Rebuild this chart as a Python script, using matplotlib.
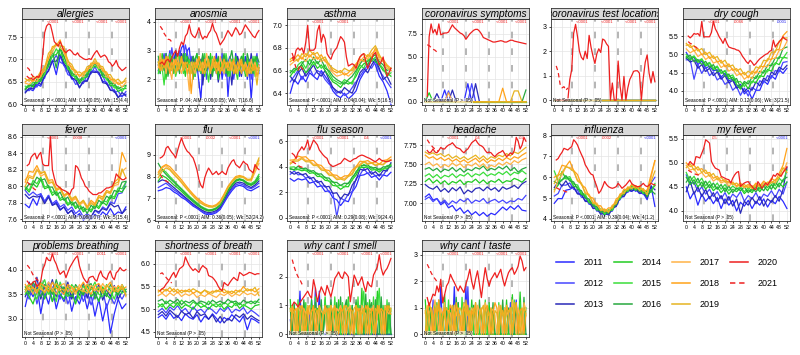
import matplotlib
matplotlib.use('Agg')
import matplotlib.pyplot as plt
from matplotlib.lines import Line2D
from matplotlib.transforms import blended_transform_factory

plt.rcParams['font.family'] = ['Liberation Sans', 'DejaVu Sans']

years = ['2011', '2012', '2013', '2014', '2015', '2016', '2017', '2018', '2019', '2020', '2021']
year_colors = ['#2b2bff', '#4646ff', '#2a2ab8', '#22cc22', '#3ade3a', '#27a83f',
               '#ffb347', '#ffa31a', '#e6b422', '#ee2020', '#ee2020']

weeks_bg2 = list(range(0, 53, 2))
weeks_bg1 = list(range(0, 53))
weeks_2020 = list(range(1, 53))
weeks_2021 = list(range(1, 8))

# ---------------- allergies ----------------
allergies_bg = [
    [6.27,6.34,6.30,6.44,6.40,6.62,6.76,6.98,6.66,7.08,6.86,6.76,6.56,6.54,6.38,6.49,6.54,6.74,6.74,6.69,6.51,6.49,6.31,6.32,6.16,6.19,6.22],
    [6.32,6.30,6.44,6.38,6.54,6.58,6.89,6.96,7.09,6.94,6.89,6.66,6.62,6.44,6.49,6.46,6.66,6.68,6.84,6.66,6.64,6.44,6.42,6.26,6.29,6.16,6.28],
    [6.25,6.36,6.34,6.49,6.44,6.64,6.74,6.96,6.96,7.12,6.91,6.79,6.58,6.56,6.36,6.52,6.51,6.72,6.71,6.72,6.48,6.46,6.31,6.29,6.14,6.26,6.18],
    [6.35,6.44,6.38,6.52,6.51,6.72,6.84,7.09,7.11,7.24,6.96,6.84,6.64,6.62,6.46,6.59,6.61,6.82,6.84,6.82,6.61,6.59,6.41,6.42,6.28,6.34,6.35],
    [6.40,6.38,6.49,6.46,6.59,6.66,6.96,7.06,7.24,7.11,7.09,6.78,6.74,6.56,6.56,6.54,6.72,6.76,6.94,6.76,6.72,6.54,6.52,6.36,6.39,6.28,6.40],
    [6.32,6.42,6.41,6.56,6.54,6.76,6.91,7.19,6.81,7.29,7.06,6.89,6.68,6.66,6.51,6.64,6.66,6.86,6.88,6.86,6.66,6.64,6.46,6.46,6.34,6.39,6.42],
    [6.47,6.44,6.54,6.51,6.66,6.74,7.04,7.16,7.34,7.26,7.19,6.88,6.84,6.66,6.66,6.61,6.79,6.81,6.96,6.81,6.79,6.61,6.59,6.46,6.49,6.38,6.48],
    [6.50,6.56,6.51,6.62,6.61,6.84,7.01,7.29,7.31,7.44,7.16,6.99,6.78,6.76,6.61,6.72,6.74,6.92,6.91,6.92,6.74,6.72,6.54,6.56,6.44,6.49,6.52],
    [6.57,6.51,6.62,6.58,6.74,6.81,7.14,7.24,7.36,7.31,7.29,6.96,6.89,6.71,6.72,6.66,6.84,6.86,7.02,6.86,6.84,6.66,6.66,6.51,6.56,6.46,6.58],
]
allergies_2020 = [6.62,6.58,6.58,6.55,6.58,6.62,6.60,6.70,7.10,7.60,7.75,7.80,7.78,7.60,7.40,7.35,7.30,7.40,7.30,7.20,
                  7.15,7.20,7.22,7.18,7.12,7.10,7.15,7.08,7.05,7.02,7.00,7.00,7.02,7.00,7.08,7.15,7.20,7.12,7.05,7.08,
                  7.10,7.05,6.95,6.92,6.85,6.90,6.98,6.85,6.80,6.75,6.78,6.82]
allergies_2021 = [6.82,6.78,6.68,6.62,6.60,6.62,6.60]

# ---------------- anosmia ----------------
anosmia_bg = [
    [2.5,2.2,2.8,2.4,2.9,2.6,3.0,2.3,2.7,2.9,2.4,2.8,3.1,3.2,2.6,3.0,3.1,2.4,2.2,2.7,2.5,1.9,1.3,2.4,2.8,2.3,2.6,2.1,2.7,2.4,2.9,2.2,2.6,2.0,2.5,2.8,1.4,2.3,2.7,2.2,2.9,2.5,2.1,2.6,2.3,2.8,2.0,2.4,1.3,2.2,2.7,2.3,2.5],
    [2.7,2.4,2.6,2.9,2.3,2.7,2.5,3.1,2.6,2.4,2.8,3.0,2.5,2.7,3.2,2.9,2.6,2.8,2.3,2.6,2.9,2.4,2.2,2.7,2.5,2.0,2.6,2.8,2.3,2.5,2.2,2.7,2.4,2.9,2.3,2.1,2.6,2.8,2.4,2.0,2.5,2.7,2.3,2.6,2.8,2.2,2.5,2.7,2.0,2.4,2.6,2.9,2.2],
    [2.3,2.6,2.4,2.7,2.5,2.2,2.8,2.6,2.4,3.0,2.7,2.5,2.9,2.6,2.4,2.7,2.3,2.6,2.8,2.1,2.6,2.4,2.7,1.8,2.5,2.3,2.6,2.0,2.4,2.7,2.5,1.9,2.3,2.6,2.4,2.7,2.2,2.5,1.8,2.6,2.4,2.8,2.5,2.1,2.7,2.4,2.6,2.3,2.9,2.5,2.2,2.6,2.4],
    [2.6,2.2,2.9,2.5,2.0,2.7,2.4,2.8,2.2,2.6,2.9,2.3,2.7,2.5,2.1,2.8,2.4,2.6,2.0,2.7,2.9,2.3,2.5,2.8,2.1,2.6,2.4,2.9,2.2,2.5,2.7,2.0,2.6,2.3,2.8,2.5,2.1,2.7,2.4,2.2,2.8,2.6,2.3,2.5,2.9,2.1,2.7,2.4,2.6,2.2,2.8,2.5,2.3],
    [2.2,2.7,2.4,1.8,2.6,2.3,2.9,2.5,2.7,2.1,2.4,2.8,2.6,2.2,2.9,2.4,2.7,2.3,2.6,2.1,2.5,2.8,2.2,2.6,2.9,2.4,1.9,2.6,2.8,2.3,2.5,2.7,2.2,2.6,2.4,2.9,2.5,2.1,2.7,2.6,2.3,2.0,2.6,2.8,2.4,2.2,2.7,2.5,2.3,2.8,2.1,2.6,2.4],
    [2.8,2.4,2.6,2.3,2.9,2.1,2.5,2.7,2.3,2.8,2.5,2.2,2.6,2.9,2.4,2.7,2.2,2.5,2.8,2.6,2.3,2.7,2.5,2.9,2.3,2.6,2.8,2.4,2.1,2.7,2.5,2.8,2.3,2.6,2.9,2.2,2.4,2.7,3.0,2.5,2.2,2.6,2.4,2.8,2.5,2.3,2.9,2.6,2.2,2.7,2.5,2.8,2.6],
    [2.4,2.9,2.5,2.7,2.2,2.6,2.3,2.0,2.7,2.5,2.8,2.4,2.2,2.6,2.5,2.3,1.6,2.6,2.4,2.2,2.7,2.5,2.3,2.6,2.4,2.9,2.5,2.2,2.7,2.4,2.6,2.3,2.8,2.5,2.2,2.6,2.4,2.7,2.3,2.6,2.4,2.2,2.7,2.5,2.3,2.6,2.4,2.2,2.7,2.4,2.6,2.3,2.5],
    [2.6,2.3,2.7,2.4,2.8,2.5,2.2,2.6,2.4,2.7,2.3,2.5,2.8,2.4,2.6,2.2,2.5,1.5,2.3,2.6,2.4,2.8,2.5,2.2,2.7,2.4,2.6,2.3,2.5,2.8,2.4,2.6,2.2,2.5,2.7,2.4,2.6,2.3,2.5,2.7,2.2,2.6,2.4,2.7,2.3,2.5,2.2,2.6,2.4,2.3,2.5,2.1,2.4],
    [2.5,2.7,2.3,2.6,2.4,2.8,2.6,2.3,2.5,2.2,2.6,2.4,2.7,2.3,2.5,2.6,2.4,2.2,2.6,2.4,2.5,2.3,2.6,2.4,2.2,2.5,2.7,2.3,2.4,2.6,2.2,2.5,2.4,2.3,2.6,2.5,2.3,2.4,2.6,2.2,2.5,2.3,2.4,2.2,2.5,2.3,2.1,2.4,2.2,2.5,2.3,1.8,2.4],
]
anosmia_2020 = [2.55,2.60,2.50,2.65,2.70,2.60,2.75,2.90,3.00,2.80,3.10,3.30,3.20,3.50,3.60,3.90,3.60,3.50,3.45,3.60,
                3.80,3.55,3.40,3.50,3.45,3.60,3.70,3.95,3.70,3.60,3.40,3.20,3.30,3.40,3.55,3.70,3.60,3.50,3.65,3.80,
                3.70,3.55,3.60,3.75,3.90,3.80,3.70,3.60,3.50,3.45,3.60,3.70]
anosmia_2021 = [3.85,3.75,3.60,3.50,3.40,3.38,3.30]

# ---------------- asthma ----------------
asthma_bg = [
    [6.40,6.52,6.48,6.55,6.50,6.58,6.55,6.52,6.60,6.55,6.50,6.42,6.38,6.36,6.40,6.35,6.38,6.42,6.52,6.58,6.62,6.70,6.65,6.55,6.50,6.42,6.30],
    [6.50,6.55,6.60,6.52,6.58,6.62,6.55,6.60,6.58,6.52,6.48,6.45,6.40,6.42,6.38,6.40,6.45,6.50,6.55,6.60,6.65,6.62,6.68,6.60,6.55,6.50,6.45],
    [6.55,6.50,6.58,6.62,6.55,6.60,6.65,6.58,6.55,6.60,6.52,6.45,6.42,6.40,6.45,6.42,6.40,6.48,6.58,6.62,6.58,6.65,6.70,6.62,6.52,6.55,6.48],
    [6.55,6.60,6.62,6.65,6.58,6.62,6.68,6.62,6.65,6.60,6.55,6.50,6.48,6.45,6.50,6.48,6.50,6.55,6.62,6.66,6.68,6.72,6.68,6.65,6.60,6.58,6.55],
    [6.60,6.58,6.65,6.68,6.62,6.70,6.65,6.68,6.62,6.65,6.58,6.52,6.50,6.48,6.52,6.50,6.48,6.58,6.65,6.62,6.70,6.68,6.72,6.66,6.62,6.55,6.58],
    [6.58,6.62,6.60,6.66,6.70,6.65,6.72,6.66,6.70,6.62,6.60,6.55,6.52,6.50,6.48,6.52,6.55,6.60,6.66,6.70,6.65,6.72,6.74,6.68,6.65,6.60,6.62],
    [6.65,6.68,6.70,6.72,6.68,6.74,6.70,6.72,6.68,6.70,6.62,6.58,6.55,6.56,6.58,6.55,6.58,6.62,6.68,6.72,6.70,6.75,6.78,6.70,6.68,6.62,6.60],
    [6.68,6.70,6.74,6.70,6.75,6.72,6.76,6.70,6.74,6.68,6.66,6.60,6.58,6.60,6.56,6.58,6.62,6.66,6.70,6.68,6.74,6.72,6.80,6.72,6.70,6.65,6.62],
    [6.70,6.72,6.68,6.75,6.72,6.78,6.74,6.76,6.70,6.72,6.65,6.62,6.60,6.58,6.62,6.60,6.60,6.65,6.72,6.75,6.72,6.78,6.82,6.74,6.68,6.64,6.60],
]
asthma_2020 = [6.75,6.70,6.78,6.80,6.78,6.80,6.75,6.85,7.00,6.78,6.78,6.78,6.80,6.95,7.00,6.85,6.92,6.88,6.75,6.72,
               6.70,6.75,6.78,6.80,6.85,6.90,6.88,6.85,6.72,6.64,6.65,6.66,6.65,6.62,6.68,6.72,6.74,6.75,6.68,6.62,
               6.66,6.70,6.74,6.76,6.70,6.65,6.68,6.72,6.62,6.55,6.58,6.62]
asthma_2021 = [6.72,6.68,6.62,6.60,6.65,6.62,6.60]

# ---------------- coronavirus symptoms ----------------
coronavirus_symptoms_bg = [
    [0,0,0,0,0,1.3,0,0,0,0,0,2.0,0,0,0,0,0,0,0,0,0,0,0,0,0,0,0],
    [0,0,0,0,0,0,1.2,0,0,0,0,0,2.0,0,0,0,0,0,0,0,0,0,0,0,0,0,0],
    [0,0,0,0.9,0,0,0,1.3,0,0,0,0,0,2.0,0,0,0,0,0,0,0,0,0,0,0,0,0],
    [0,1.0,0,0,0,0,0,0,0,0,0,0,0,0,0,0,0,0,0,0,0,0,0,0,0,0,0],
    [0,0,0,0,0,0,0,0,0,0,0,0,0,0,0,0,0,0,0,0,0,0,0,0,0,0,0],
    [0,0,0,0,0,0,0,0,0,0,0,0,0,0,0,0,0,0,0,0,0,0,0,0,0,0,1.3],
    [0,0,0,0,0,0,1.0,0,0,0,0,0,0,0,0,0,0,0,0,0,0,0,0,0,0,0,0],
    [0,0,0,0,0,0,0,0,0,0,0,0,0,0,0,0,0,0,0,0,1.5,0,0,0,0,0,0],
    [0,0,0,0,0,0,0,0,0,0,0,0,0,0,0,0,0,0,0,0,0,0,0,1.2,1.2,0,0],
]
coronavirus_symptoms_2020 = [0.6,7.2,8.6,7.6,8.0,7.4,8.6,7.4,7.5,7.6,7.6,7.7,8.1,8.5,8.2,8.0,7.8,7.6,7.5,7.3,
                             6.9,7.2,7.5,7.7,7.9,8.0,8.0,7.8,7.5,7.1,7.0,6.9,6.8,6.7,6.6,6.6,6.65,6.7,6.75,6.7,
                             6.6,6.6,6.7,6.8,6.8,6.7,6.65,6.6,6.55,6.5,6.45,6.4]
coronavirus_symptoms_2021 = [6.3,6.2,6.0,5.8,5.7,5.5]

# ---------------- coronavirus test locations ----------------
coronavirus_test_locations_bg = [
    [0,0,0,0,0,0,0,0,0,0,0,0,0,0,0,0,0,0,0,0,0,0,0,0,0,0,0],
    [0,0,0,0,0,0,0,0,0,0,0,0,0,0,0,0,0,0,0,0,0,0,0,0,0,0,0],
    [0,0,0,0,0,0,0,0,0,0,0,0,0,0,0,0,0,0,0,0,0,0,0,0,0,0,0],
    [0,0,0,0,0,0,0,0,0,0,0,0,0,0,0,0,0,0,0,0,0,0,0,0,0,0,0],
    [0,0,0,0,0,0,0,0,0,0,0,0,0,0,0,0,0,0,0,0,0,0,0,0,0,0,0],
    [0,0,0,0,0,0,0,0,0,0,0,0,0,0,0,0,0,0,0,0,0,0,0,0,0,0,0],
    [0,0,0,0,0,0,0,0,0,0,0,0,0,0,0,0,0,0,0,0,0,0,0,0,0,0,0],
    [0,0,0,0,0,0,0,0,0,0,0,0,0,0,0,0,0,0,0,0,0,0,0,0,0,0,0],
    [0,0,0,0,0,0,0,0,0,0,0,0,0,0,0,0,0,0,0,0,0,0,0,0,0,0,0],
]
coronavirus_test_locations_2020 = [0,0,0,0,0,0,0,0.84,1.24,2.73,3.1,2.6,2.0,1.75,1.65,2.0,1.7,2.65,2.16,1.8,
                                   1.5,1.9,2.1,1.95,2.5,2.45,2.3,2.2,0,0.7,0,0,1.6,0.57,0,0.97,0,0.5,0.84,1.0,
                                   1.18,1.2,1.2,1.1,0,0.9,1.55,1.85,1.1,0.7,1.17,0.75]
coronavirus_test_locations_2021 = [1.4,1.15,0.65,0.5,0.55,0.4,0.5]

# ---------------- dry cough ----------------
dry_cough_bg = [
    [5.05,4.88,4.92,4.72,4.82,4.62,4.68,4.55,4.58,4.38,4.48,4.28,4.32,4.12,4.18,3.92,4.02,3.78,4.02,4.02,4.28,4.18,4.42,4.32,4.58,4.48,4.62],
    [4.85,4.86,4.32,4.72,4.48,4.66,4.42,4.52,4.30,4.38,4.18,4.26,4.02,4.12,3.88,4.08,3.86,4.10,4.02,4.28,4.22,4.42,4.35,4.56,4.52,4.78,4.80],
    [4.90,4.79,4.84,4.62,4.72,4.53,4.62,4.42,4.52,4.32,4.42,4.22,4.29,4.08,4.12,3.98,4.09,4.02,4.25,4.14,4.35,4.27,4.52,4.44,4.65,4.58,4.70],
    [4.95,4.84,4.94,4.78,4.86,4.68,4.76,4.58,4.66,4.48,4.54,4.33,4.38,4.18,4.05,4.22,4.06,4.27,4.22,4.42,4.39,4.59,4.54,4.77,4.72,4.92,4.90],
    [5.00,4.90,4.96,4.82,4.88,4.72,4.78,4.62,4.68,4.49,4.56,4.39,4.44,4.24,4.26,4.12,4.28,4.22,4.41,4.36,4.56,4.52,4.74,4.72,4.94,4.89,5.05],
    [4.90,4.98,4.80,4.86,4.72,4.81,4.64,4.72,4.52,4.58,4.40,4.46,4.29,4.34,4.10,4.26,4.19,4.38,4.34,4.54,4.49,4.71,4.69,4.91,4.89,5.16,5.20],
    [5.15,5.04,5.11,4.94,5.01,4.86,4.94,4.76,4.81,4.64,4.71,4.54,4.61,4.42,4.48,4.32,4.41,4.34,4.54,4.49,4.68,4.66,4.88,4.89,5.11,5.14,5.35],
    [5.25,5.26,5.09,5.16,4.99,5.06,4.89,4.96,4.79,4.84,4.66,4.74,4.56,4.61,4.44,4.51,4.36,4.54,4.49,4.68,4.66,4.88,4.86,5.11,5.14,5.51,5.62],
    [5.30,5.19,5.24,5.09,5.16,4.99,5.06,4.89,4.94,4.76,4.84,4.66,4.71,4.54,4.61,4.44,4.54,4.46,4.66,4.62,4.84,4.82,5.06,5.06,5.36,5.44,5.45],
]
dry_cough_2020 = [5.50,5.45,5.50,5.57,5.55,5.57,5.50,5.90,5.48,5.48,5.48,5.48,5.60,5.90,5.70,5.60,5.48,5.40,5.30,5.44,
                  5.30,5.20,5.18,5.16,5.15,5.12,5.11,5.05,4.95,4.88,4.80,4.75,4.84,4.78,4.70,4.75,4.82,4.88,4.92,4.96,
                  5.00,5.02,5.08,5.11,5.39,5.20,5.28,5.34,5.40,5.48,5.42,5.39]
dry_cough_2021 = [5.35,5.30,5.28,5.22,5.20,5.15,5.10]

# ---------------- fever ----------------
fever_bg = [
    [7.78,7.74,7.85,7.77,7.91,7.81,7.89,7.77,7.81,7.72,7.75,7.67,7.71,7.63,7.67,7.59,7.63,7.60,7.66,7.62,7.69,7.65,7.73,7.65,7.69,7.67,7.75],
    [7.95,7.89,7.93,7.89,7.91,7.82,7.89,7.79,7.83,7.75,7.78,7.71,7.75,7.67,7.71,7.63,7.67,7.62,7.71,7.67,7.75,7.72,7.81,7.79,7.91,7.92,8.05],
    [7.90,7.85,7.88,7.87,7.88,7.79,7.87,7.77,7.79,7.71,7.75,7.67,7.71,7.62,7.65,7.61,7.65,7.63,7.71,7.69,7.73,7.71,7.79,7.75,7.77,7.67,7.72],
    [7.98,7.93,8.03,7.99,8.08,7.97,7.99,7.89,7.93,7.83,7.85,7.77,7.81,7.73,7.77,7.69,7.73,7.69,7.77,7.73,7.81,7.77,7.87,7.85,7.95,7.93,8.00],
    [8.00,7.95,8.07,8.03,8.11,7.99,8.01,7.92,7.95,7.85,7.88,7.79,7.83,7.75,7.79,7.71,7.75,7.71,7.79,7.75,7.83,7.81,7.89,7.87,7.98,7.97,8.05],
    [7.96,8.03,8.02,8.11,8.07,8.09,7.99,7.99,7.89,7.93,7.83,7.87,7.77,7.81,7.72,7.75,7.67,7.77,7.73,7.83,7.79,7.88,7.85,7.95,7.93,8.05,8.06],
    [8.08,8.13,8.11,8.21,8.12,8.15,8.03,8.05,7.95,7.97,7.87,7.91,7.82,7.85,7.77,7.81,7.73,7.81,7.77,7.87,7.83,7.93,7.91,8.01,8.02,8.18,8.22],
    [8.05,8.18,8.17,8.25,8.15,8.18,8.07,8.08,7.97,7.99,7.89,7.91,7.83,7.87,7.79,7.83,7.75,7.83,7.79,7.89,7.87,7.95,7.93,8.05,8.09,8.41,8.30],
    [8.00,8.11,8.09,8.19,8.17,8.17,8.05,8.05,7.95,7.98,7.89,7.93,7.85,7.88,7.79,7.83,7.75,7.79,7.77,7.87,7.85,7.93,7.92,8.03,8.05,8.21,8.10],
]
fever_2020 = [8.25,8.27,8.35,8.38,8.40,8.33,8.38,8.41,8.27,8.25,8.25,8.25,8.60,8.20,8.10,8.02,8.00,7.98,7.96,7.95,
              7.94,7.92,7.90,7.96,7.98,8.25,8.23,8.18,8.10,8.06,8.00,7.98,7.94,7.92,7.90,7.90,7.90,7.92,7.92,7.94,
              7.96,7.98,7.98,7.99,8.00,8.05,8.15,8.12,8.10,8.08,8.08,8.10]
fever_2021 = [8.05,8.03,8.00,7.98,7.96,7.95,7.95]

# ---------------- flu ----------------
flu_bg = [
    [7.35,7.40,7.50,7.45,7.30,7.20,7.05,6.95,6.80,6.65,6.55,6.42,6.30,6.25,6.28,6.35,6.50,6.80,7.10,7.35,7.55,7.60,7.55,7.40,7.35,7.45,7.55],
    [7.50,7.60,7.70,7.55,7.40,7.28,7.15,7.00,6.85,6.70,6.58,6.45,6.35,6.30,6.32,6.40,6.55,6.85,7.18,7.42,7.62,7.68,7.62,7.50,7.45,7.55,7.70],
    [7.75,7.85,7.80,7.65,7.50,7.35,7.20,7.05,6.90,6.75,6.62,6.50,6.40,6.35,6.38,6.45,6.60,6.92,7.25,7.50,7.70,7.75,7.70,7.58,7.50,7.62,7.80],
    [7.80,8.05,7.95,7.80,7.62,7.48,7.32,7.15,7.00,6.85,6.70,6.58,6.48,6.42,6.45,6.52,6.68,7.00,7.32,7.58,7.78,7.85,7.80,7.65,7.60,7.70,7.90],
    [8.10,8.35,8.20,8.00,7.82,7.62,7.45,7.28,7.10,6.95,6.80,6.65,6.55,6.48,6.50,6.58,6.72,7.05,7.40,7.65,7.85,7.90,7.85,7.72,7.68,7.80,8.10],
    [8.60,8.30,8.10,7.92,7.75,7.58,7.40,7.22,7.05,6.90,6.76,6.62,6.52,6.45,6.48,6.55,6.70,7.02,7.36,7.62,7.82,7.88,7.82,7.70,7.62,7.75,8.00],
    [8.10,8.40,8.50,8.35,8.15,7.95,7.75,7.55,7.35,7.15,6.98,6.82,6.70,6.62,6.60,6.65,6.80,7.12,7.48,7.72,7.92,7.98,7.95,7.82,7.80,8.20,8.60],
    [8.20,8.45,8.55,8.45,8.25,8.05,7.85,7.62,7.40,7.20,7.02,6.88,6.75,6.68,6.65,6.72,6.88,7.20,7.55,7.80,8.00,8.05,8.00,7.88,7.85,8.35,8.75],
    [7.95,8.25,8.40,8.30,8.10,7.92,7.72,7.50,7.30,7.10,6.92,6.78,6.68,6.62,6.62,6.68,6.82,7.15,7.50,7.75,7.95,8.00,7.98,7.85,7.90,8.40,8.85],
]
flu_2020 = [8.85,8.90,9.00,9.30,9.38,9.23,9.10,9.00,8.85,9.20,9.50,9.76,9.50,9.30,9.15,9.08,8.95,8.85,8.60,8.30,
            7.86,7.60,7.48,7.94,8.20,8.39,8.25,8.09,8.15,8.24,8.09,8.15,8.24,8.15,8.09,8.39,8.55,8.70,8.77,8.55,
            8.48,8.40,8.55,8.70,8.60,8.55,8.32,8.25,8.17,8.55,8.40,8.32]
flu_2021 = [8.10,7.95,7.85,7.80,7.75,7.72,7.70]

# ---------------- flu season ----------------
flu_season_bg = [
    [3.05,2.85,3.05,2.95,3.05,2.70,2.80,2.40,2.50,2.05,2.10,1.55,1.40,0.95,1.35,1.25,2.00,2.45,3.30,3.35,3.50,3.15,3.30,2.95,3.35,3.25,3.55],
    [3.40,3.65,3.35,3.40,3.10,3.20,2.80,2.90,2.45,2.50,2.00,1.95,0.10,1.55,1.35,1.85,2.05,3.05,3.35,3.85,3.45,3.60,3.25,3.40,3.30,3.80,4.00],
    [3.60,3.40,3.55,3.35,3.45,3.05,3.15,2.75,2.85,2.40,2.45,1.90,1.95,1.45,1.85,1.75,2.55,2.95,3.80,3.70,3.85,3.40,3.60,3.25,3.70,3.65,4.30],
    [3.85,3.72,3.78,3.67,3.73,3.47,3.53,3.22,3.23,2.92,2.88,2.52,2.48,2.22,2.43,2.42,2.98,3.32,3.93,3.92,3.98,3.72,3.78,3.57,3.83,3.82,4.05],
    [3.95,3.98,3.77,3.88,3.67,3.73,3.47,3.48,3.17,3.18,2.84,2.83,2.47,2.53,2.42,2.73,2.92,3.63,3.87,4.18,3.92,3.98,3.72,3.83,3.77,4.08,4.10],
    [3.80,3.77,4.03,3.82,3.88,3.62,3.68,3.40,3.43,3.12,3.10,2.77,2.76,2.52,2.70,2.67,3.18,3.52,4.08,4.07,4.13,3.87,3.93,3.72,3.98,3.97,4.20],
    [4.30,4.52,4.53,4.72,4.48,4.47,4.18,4.17,3.83,3.77,3.43,3.37,3.08,3.12,3.03,3.32,3.48,4.02,4.18,4.42,4.23,4.32,4.13,4.22,4.18,4.47,4.55],
    [4.50,4.53,4.82,4.73,4.77,4.48,4.47,4.15,4.09,3.75,3.69,3.35,3.32,3.08,3.27,3.28,3.72,3.98,4.42,4.38,4.47,4.28,4.37,4.18,4.47,4.53,4.75],
    [4.20,4.42,4.43,4.62,4.38,4.37,4.08,4.07,3.73,3.67,3.33,3.27,2.98,3.02,2.93,3.22,3.38,3.92,4.08,4.37,4.18,4.27,4.08,4.17,4.13,4.42,4.50],
]
flu_season_2020 = [5.03,4.90,4.64,5.10,5.30,5.55,5.30,5.60,6.08,5.30,5.70,6.08,5.90,5.70,5.30,5.10,4.90,4.75,4.64,4.25,
                   4.10,4.00,4.05,4.12,4.20,4.25,4.45,4.64,4.55,4.45,4.38,4.50,4.60,4.64,4.77,4.85,4.90,4.85,4.77,4.70,
                   4.64,4.55,4.45,4.38,4.50,4.64,4.50,4.45,4.40,4.38,4.42,4.50]
flu_season_2021 = [4.40,4.30,4.20,4.10,4.00,3.95,3.90]

# ---------------- headache ----------------
headache_bg = [
    [7.08,7.12,7.04,7.06,6.98,7.02,6.94,6.97,6.90,6.94,6.87,6.91,6.85,6.89,6.84,6.88,6.83,6.87,6.85,6.90,6.95,6.91,6.96,6.92,6.97,6.91,6.90],
    [7.05,7.08,7.02,7.06,7.00,7.04,6.98,7.03,7.00,7.05,7.02,7.06,7.00,7.04,7.02,7.06,7.00,7.03,7.05,7.01,7.04,7.00,7.03,7.02,7.06,7.04,7.10],
    [7.24,7.20,7.18,7.22,7.15,7.19,7.14,7.20,7.16,7.21,7.12,7.17,7.14,7.19,7.20,7.16,7.21,7.17,7.20,7.15,7.21,7.18,7.20,7.23,7.19,7.25,7.28],
    [7.28,7.32,7.26,7.30,7.25,7.29,7.24,7.28,7.26,7.30,7.24,7.28,7.27,7.31,7.26,7.30,7.25,7.29,7.27,7.31,7.26,7.29,7.28,7.32,7.30,7.27,7.32],
    [7.35,7.38,7.33,7.37,7.32,7.36,7.34,7.38,7.33,7.37,7.35,7.39,7.34,7.38,7.36,7.40,7.35,7.38,7.36,7.40,7.37,7.41,7.36,7.40,7.38,7.42,7.38],
    [7.44,7.46,7.42,7.45,7.40,7.44,7.42,7.46,7.41,7.45,7.40,7.44,7.42,7.46,7.44,7.48,7.42,7.45,7.43,7.47,7.44,7.48,7.42,7.46,7.40,7.44,7.46],
    [7.50,7.53,7.48,7.51,7.46,7.50,7.47,7.52,7.48,7.51,7.46,7.50,7.48,7.52,7.47,7.51,7.45,7.49,7.47,7.52,7.49,7.53,7.50,7.55,7.52,7.56,7.58],
    [7.62,7.58,7.60,7.56,7.59,7.55,7.58,7.54,7.57,7.53,7.56,7.52,7.55,7.58,7.53,7.57,7.52,7.56,7.54,7.58,7.55,7.59,7.56,7.60,7.58,7.62,7.65],
    [7.66,7.63,7.65,7.62,7.64,7.60,7.63,7.58,7.61,7.57,7.60,7.56,7.59,7.62,7.57,7.61,7.56,7.60,7.58,7.62,7.60,7.64,7.61,7.66,7.64,7.68,7.72],
]
headache_2020 = [7.68,7.65,7.66,7.70,7.66,7.65,7.68,7.72,7.70,7.70,7.73,7.75,7.76,7.78,7.75,7.72,7.71,7.70,7.67,7.65,
                 7.68,7.70,7.74,7.78,7.80,7.82,7.78,7.75,7.74,7.72,7.68,7.65,7.66,7.65,7.62,7.60,7.63,7.65,7.66,7.68,
                 7.64,7.60,7.62,7.65,7.63,7.68,7.85,7.80,7.70,7.75,7.85,7.80]
headache_2021 = [7.82,7.78,7.75,7.72,7.70,7.68,7.67]

# ---------------- influenza ----------------
influenza_bg = [
    [4.75,4.98,4.97,5.38,5.42,5.53,5.22,5.18,4.87,4.88,4.57,4.58,4.27,4.33,4.22,4.53,4.62,5.03,5.07,5.38,5.32,5.43,5.22,5.23,4.92,5.60,4.60],
    [5.10,5.22,5.63,5.62,5.73,5.42,5.38,5.04,5.03,4.70,4.70,4.37,4.40,4.14,4.36,4.37,4.80,4.92,5.28,5.27,5.53,5.32,5.43,5.17,5.38,5.72,6.00],
    [5.50,5.78,5.57,5.83,5.52,5.53,5.20,5.18,4.84,4.83,4.50,4.50,4.22,4.28,4.17,4.50,4.60,5.06,5.10,5.40,5.34,5.46,5.24,5.28,5.02,5.58,5.40],
    [5.40,5.62,6.28,5.92,5.93,5.57,5.53,5.17,5.13,4.77,4.76,4.42,4.46,4.20,4.40,4.42,4.83,4.97,5.33,5.32,5.58,5.37,5.48,5.22,5.33,5.37,5.60],
    [6.30,5.82,5.88,5.97,6.03,5.67,5.63,5.24,5.18,4.82,4.80,4.47,4.50,4.24,4.44,4.44,4.86,5.00,5.36,5.34,5.60,5.40,5.50,5.24,5.28,5.27,5.70],
    [5.80,5.68,5.87,6.08,5.82,5.78,5.42,5.36,5.00,4.96,4.62,4.60,4.32,4.38,4.26,4.58,4.68,5.13,5.17,5.48,5.42,5.54,5.32,5.38,5.07,5.38,5.20],
    [5.30,5.88,6.12,6.48,6.47,6.33,5.87,5.73,5.27,5.18,4.80,4.76,4.44,4.48,4.34,4.66,4.77,5.20,5.24,5.53,5.47,5.60,5.40,5.46,5.17,5.98,6.80],
    [6.00,6.12,6.58,6.52,6.78,6.32,6.13,5.64,5.50,5.07,5.00,4.64,4.63,4.34,4.53,4.52,4.96,5.07,5.43,5.40,5.66,5.47,5.58,5.34,5.38,6.12,6.80],
    [5.70,6.08,6.22,6.53,6.42,6.28,5.82,5.68,5.22,5.13,4.74,4.70,4.40,4.46,4.32,4.63,4.74,5.18,5.22,5.53,5.47,5.60,5.38,5.44,5.17,5.78,6.30],
]
influenza_2020 = [6.83,6.90,7.07,7.20,7.39,7.35,7.31,7.40,7.47,7.80,7.70,7.55,7.31,7.10,6.90,6.60,6.45,6.27,6.15,6.11,
                  5.80,5.55,5.23,5.35,5.55,5.80,5.65,5.55,5.50,5.47,5.50,5.55,5.71,5.60,5.47,5.55,5.63,5.75,5.87,5.70,
                  5.63,5.58,5.55,5.55,5.62,5.71,5.60,5.55,5.62,5.71,5.66,5.63]
influenza_2021 = [5.50,5.45,5.40,5.38,5.35,5.30,5.30]

# ---------------- my fever ----------------
my_fever_bg = [
    [4.50,4.25,4.40,4.12,4.35,4.20,4.30,4.15,4.28,4.05,4.25,4.12,4.22,4.00,4.18,4.10,4.22,4.05,4.20,4.12,4.25,4.08,4.22,4.15,4.30,4.20,4.05],
    [4.75,4.55,4.60,4.40,4.50,4.35,4.45,4.30,4.40,4.25,4.38,4.22,4.35,4.28,4.40,4.20,4.32,4.25,4.38,4.22,4.35,4.30,4.42,4.28,4.45,4.35,4.60],
    [4.40,4.62,4.35,4.50,4.30,4.45,4.25,4.38,4.20,4.32,4.15,4.30,4.10,4.25,3.95,4.20,4.12,4.28,4.15,4.30,4.10,4.25,4.18,4.32,4.20,4.45,4.90],
    [4.70,4.55,4.65,4.50,4.60,4.45,4.55,4.42,4.50,4.38,4.48,4.35,4.45,4.40,4.48,4.36,4.44,4.38,4.50,4.40,4.52,4.42,4.55,4.45,4.58,4.50,4.60],
    [4.80,4.62,4.72,4.58,4.68,4.52,4.62,4.48,4.58,4.45,4.55,4.42,4.52,4.45,4.50,4.40,4.48,4.42,4.55,4.45,4.58,4.48,4.62,4.52,4.68,4.60,4.85],
    [4.60,4.72,4.55,4.68,4.50,4.62,4.48,4.58,4.45,4.55,4.40,4.52,4.38,4.48,4.42,4.50,4.38,4.46,4.40,4.50,4.42,4.55,4.45,4.60,4.50,4.65,4.70],
    [4.95,4.85,4.88,4.75,4.80,4.70,4.75,4.62,4.68,4.58,4.62,4.52,4.58,4.50,4.55,4.48,4.52,4.46,4.55,4.50,4.58,4.52,4.62,4.58,4.70,4.80,5.00],
    [5.00,4.92,4.95,4.85,4.88,4.78,4.80,4.68,4.72,4.62,4.65,4.58,4.60,4.52,4.58,4.50,4.55,4.48,4.58,4.52,4.62,4.55,4.68,4.62,4.78,4.95,5.30],
    [4.90,4.98,4.85,4.92,4.80,4.85,4.72,4.78,4.65,4.70,4.60,4.62,4.55,4.58,4.50,4.55,4.48,4.52,4.50,4.55,4.52,4.60,4.58,4.65,4.70,4.90,4.80],
]
my_fever_2020 = [4.96,5.03,4.98,4.96,5.13,5.12,5.10,5.20,5.30,5.48,5.45,5.41,5.03,4.95,4.89,4.87,4.85,4.72,4.70,4.68,
                 4.66,4.65,4.58,4.68,4.75,4.80,4.82,4.51,4.55,4.58,4.60,4.61,4.55,4.51,4.46,4.44,4.61,4.55,4.47,4.52,
                 4.58,4.54,4.60,4.65,4.75,4.72,4.78,4.75,4.72,4.80,4.85,4.92]
my_fever_2021 = [4.85,4.82,4.80,4.78,4.76,4.75,4.75]

# ---------------- problems breathing ----------------
problems_breathing_bg = [
    [3.25,3.60,3.45,3.70,3.10,3.55,3.30,3.65,3.20,3.50,3.35,3.60,3.15,3.45,3.30,3.55,3.20,3.50,3.05,3.40,2.95,3.30,2.70,3.10,3.40,3.20,3.30],
    [3.55,3.40,3.70,3.30,3.60,3.45,3.75,3.35,3.55,3.40,3.65,3.30,3.50,3.38,3.62,3.35,3.55,3.28,3.50,3.35,3.58,3.22,3.45,3.30,3.52,3.40,3.55],
    [3.45,3.75,3.50,3.85,3.40,3.65,3.55,3.80,3.45,3.70,3.50,3.75,3.40,3.60,3.48,3.72,3.42,3.65,3.50,3.70,3.38,3.60,3.45,3.68,3.40,3.55,3.60],
    [3.60,3.45,3.30,3.55,3.75,3.40,3.60,3.35,3.70,3.50,3.40,3.65,3.55,3.30,3.60,3.50,3.70,3.45,3.55,3.35,3.65,3.50,3.40,3.62,3.48,3.70,3.55],
    [3.50,3.70,3.55,3.40,3.65,3.80,3.50,3.60,3.35,3.75,3.55,3.45,3.70,3.60,3.40,3.68,3.52,3.60,3.75,3.50,3.45,3.70,3.58,3.40,3.65,3.52,3.60],
    [3.65,3.50,3.75,3.60,3.45,3.70,3.65,3.50,3.80,3.55,3.65,3.50,3.45,3.70,3.58,3.48,3.66,3.72,3.40,3.62,3.55,3.45,3.70,3.58,3.50,3.62,3.48],
    [3.55,3.65,3.50,3.70,3.60,3.55,3.75,3.62,3.50,3.68,3.72,3.55,3.62,3.50,3.70,3.58,3.52,3.68,3.62,3.55,3.72,3.60,3.52,3.66,3.58,3.70,3.45],
    [3.70,3.58,3.65,3.52,3.72,3.66,3.55,3.75,3.62,3.58,3.50,3.70,3.65,3.55,3.62,3.75,3.60,3.50,3.68,3.72,3.58,3.65,3.75,3.55,3.68,3.60,3.65],
    [3.60,3.72,3.62,3.58,3.66,3.52,3.68,3.55,3.72,3.62,3.58,3.66,3.52,3.65,3.60,3.55,3.70,3.62,3.58,3.65,3.52,3.68,3.62,3.58,3.55,3.65,3.50],
]
problems_breathing_2020 = [3.77,3.72,3.70,3.75,3.77,3.66,3.70,3.77,4.01,4.10,4.26,4.20,4.19,4.33,4.20,4.12,4.00,3.91,3.95,3.98,
                           3.84,3.95,4.05,4.12,4.19,4.25,4.29,4.08,3.95,3.84,3.78,3.73,3.84,3.86,3.87,3.80,3.77,3.90,3.98,3.87,
                           3.84,3.80,3.92,3.98,3.85,3.80,3.94,3.98,4.05,4.00,3.98,4.01]
problems_breathing_2021 = [4.10,4.05,3.98,3.90,3.85,3.80,3.78]

# ---------------- shortness of breath ----------------
shortness_of_breath_bg = [
    [4.82,4.88,4.78,4.92,4.80,4.86,4.75,4.90,4.82,4.78,4.88,4.72,4.85,4.78,4.90,4.80,4.70,4.82,4.76,4.88,4.80,4.72,4.85,4.55,4.80,4.76,4.70],
    [4.95,5.02,4.92,5.05,4.98,5.08,4.95,5.02,4.90,5.05,4.96,5.00,4.92,5.04,4.98,4.90,5.02,4.95,5.05,4.92,5.00,4.96,5.04,4.90,4.98,4.92,4.85],
    [4.88,4.95,4.85,4.98,4.90,4.82,4.96,4.88,4.92,4.80,4.95,4.86,4.90,4.78,4.88,4.72,4.84,4.70,4.80,4.74,4.88,4.82,4.90,4.78,4.86,4.80,4.75],
    [5.05,5.12,5.00,5.10,5.04,5.15,5.02,5.10,5.06,5.00,5.12,5.04,5.08,5.00,5.10,5.05,5.12,5.00,5.08,5.04,5.14,5.02,5.10,5.05,5.00,5.08,5.10],
    [5.12,5.05,5.18,5.10,5.15,5.08,5.20,5.12,5.06,5.16,5.10,5.14,5.06,5.18,5.10,5.12,5.05,5.15,5.10,5.18,5.08,5.14,5.06,5.16,5.12,5.18,5.15],
    [5.18,5.22,5.12,5.20,5.15,5.22,5.10,5.18,5.14,5.20,5.12,5.18,5.15,5.10,5.20,5.14,5.18,5.12,5.22,5.15,5.18,5.10,5.20,5.14,5.18,5.12,5.22],
    [5.30,5.35,5.28,5.36,5.30,5.38,5.28,5.34,5.30,5.36,5.26,5.32,5.28,5.35,5.30,5.26,5.34,5.30,5.36,5.28,5.34,5.30,5.38,5.32,5.35,5.30,5.38],
    [5.42,5.36,5.44,5.38,5.45,5.36,5.42,5.38,5.44,5.35,5.40,5.36,5.42,5.34,5.40,5.38,5.44,5.36,5.40,5.34,5.42,5.38,5.50,5.40,5.44,5.38,5.45],
    [5.38,5.45,5.40,5.48,5.38,5.44,5.36,5.42,5.38,5.45,5.40,5.34,5.42,5.38,5.35,5.42,5.38,5.44,5.36,5.40,5.35,5.42,5.38,5.45,5.40,5.48,5.30],
]
shortness_of_breath_2020 = [5.41,5.45,5.48,5.55,5.60,5.67,5.75,5.81,5.70,5.80,5.89,5.92,5.96,6.15,6.05,5.96,5.90,5.85,5.89,5.85,
                            5.81,5.90,5.96,5.92,5.89,5.74,5.72,5.70,5.65,5.59,5.50,5.44,5.41,5.59,5.55,5.52,5.59,5.65,5.70,5.66,
                            5.63,5.81,5.78,5.74,5.76,5.78,5.81,5.80,5.78,5.76,5.78,5.78]
shortness_of_breath_2021 = [5.78,5.80,5.75,5.70,5.65,5.60,5.58]

# ---------------- why cant I smell ----------------
why_cant_i_smell_bg = [
    [0,0,0.8,0,0,1.5,0,0,0.9,0,0,1.2,0,0,0,1.5,0,0,0,0,0.8,0,0,0,0,0,0,0,0,0,0,0,0.6,0,0,0,0,0,0,0,0,0,0,0,0.8,0,0,0,0,0,0,0,0],
    [0.5,0,0,0,1.0,0,0,0,0,0,0.7,0,0,1.6,0,0,0,0,0,0,0,0,0,0,0,0,0,0,0,0,0,0,0,0,0,0,0,0,0,0,0,0,0,0,0,0,0,0,0,0,0,0,0],
    [0,0,0,0,0,0,0,0,0,0,0,0,0,0,0,0,0,0,0,0,0,0,0,0,0,0,0,0,0,0,0,0,0,0,0,0,0,0,0,0,0,0,0,0,0,0,0,0,0,0,0,0,0],
    [1.2,0,0.9,0,1.0,0,0,1.1,0,0.8,0,1.2,0,0,0.9,0,1.0,0,1.3,0,0,1.1,0,0.9,0,1.2,0,0,1.0,0,1.3,0,0.8,0,1.1,0,0,1.6,0,1.0,0,1.2,0,0.9,0,1.5,0,1.1,0,0.8,0,1.0,0],
    [0,1.0,0,0,1.2,0,0.9,0,1.1,0,0,1.0,0,1.3,0,0.8,0,0,1.2,0,1.0,0,0,1.3,0,0.9,0,1.1,0,0,1.2,0,1.0,0,0,1.3,0,0.9,1.5,0,1.1,0,0,1.3,0,0.9,1.6,0,1.0,0,1.2,0,0.9],
    [0.9,0,1.1,0,0,0.8,0,1.2,0,1.0,0,0.9,0,1.1,0,0,1.2,0,0.8,1.0,0,1.2,0,0,1.1,0,1.3,0,0.9,1.2,0,0,1.0,0,1.2,0,1.0,0,0,1.4,0,0.9,1.1,0,1.2,0,0,1.3,0,1.0,0,1.1,0],
    [0.8,0.9,0,0.7,1.0,0.8,0,0.9,0.7,1.0,0,0.8,0.9,0.7,0,1.0,0.8,0.7,0.9,0,0.8,1.0,0.7,0,0.9,0.8,1.0,0.7,0,0.8,0.9,1.0,0,0.7,0.8,0.9,0,1.0,0.8,0.7,0,0.9,0.8,1.0,0,0.7,0.9,0.8,0,1.0,0.8,0.7,0.9],
    [0,1.0,0.8,0.9,0,0.7,1.0,0.8,0,0.9,0.7,0.8,1.0,0,0.8,0.9,0,0.7,1.0,0.8,0.9,0,0.8,1.0,0.7,0,0.9,0.8,1.0,0,0.7,0.9,0.8,0,1.0,0.8,0.9,0,0.7,1.0,0.8,0,0.9,0.8,0,1.0,0.7,0.9,0.8,0,1.0,0.8,0.7],
    [0.9,0.7,0.8,0,0.9,1.0,0.8,0,0.7,0.9,1.0,0,0.8,0.9,0.7,1.0,0,0.8,0.7,0.9,0,1.0,0.8,0.9,0,0.7,0.8,0,0.9,1.0,0.8,0,0.7,0.9,1.0,0,0.8,0.7,0.9,0,1.0,0.8,0.7,0,0.9,0.8,1.0,0,0.7,0.9,0.8,1.0,0.8],
]
why_cant_i_smell_2020 = [1.00,1.12,1.05,0.95,1.10,1.20,1.30,1.40,1.50,1.35,1.25,1.90,1.60,1.13,1.40,1.65,1.50,1.35,1.70,1.50,
                         1.30,1.60,1.94,2.05,2.17,2.00,1.94,2.17,2.10,2.00,1.13,1.60,2.06,1.90,1.70,1.85,2.00,1.70,1.48,1.83,
                         1.70,1.65,2.06,2.20,2.35,2.77,2.30,2.06,2.20,2.29,2.45,2.64]
why_cant_i_smell_2021 = [2.60,2.35,2.15,2.00,1.90,1.75,1.70]

# ---------------- why cant I taste ----------------
why_cant_i_taste_bg = [
    [0,0,0,0,0,0,0,0,1.8,0,0,0,0,0,0,1.8,0,0,0,0,0,1.8,0,0,0,0,0,0,0,0,0,0,0,0,0,0,0,0,0,0,0,0,0,0,0,0,0,1.3,0,0,0,0,0],
    [0,0,0,0,1.3,0,0,0,0,0,0,0,0,0,0,0,0,1.2,0,0,0,0,1.8,0,0,0,0,0,0,0,0,0,0,0,0,0,0,0,0,0,0,0,0,0,1.2,0,0,0,0,0,0,0,0],
    [0,0,0,0,0,0,0,0,0,0,0,0,0,1.1,0,0,0,0,0,0,0,0,0,0,0,0,0,0,0,0,0,0,0,0,0,0,0,0,0,0,0,0,0,0,0,0,0,0,0,0,0,0,0],
    [1.3,0,0,1.0,0,0,1.2,0,0,0,1.5,0,0,0.9,0,0,0,1.2,0,0,0,1.0,0,0,1.3,0,0,0,0,0.9,0,0,0,1.2,0,0,0,0,1.0,0,0,0,1.3,0,0,1.5,0,0,0,1.6,0,0,1.0],
    [0,1.0,0,0,0,1.2,0,0,1.0,0,0,0,1.3,0,0,1.1,0,0,0,1.4,0,0,0,1.0,0,0,1.2,0,0,0,0,1.3,0,0,0,0.9,0,0,1.2,0,0,1.0,0,0,0,0,1.3,0,0,1.2,0,0,0],
    [0,0,1.1,0,0,0,0,1.3,0,0,0,1.0,0,0,0,0,1.4,0,0,0,1.2,0,0,0,0,1.1,0,0,1.3,0,0,0,1.0,0,0,1.2,0,0,0,0,1.3,0,0,1.0,0,0,0,1.2,0,0,0,1.4,0],
    [0.8,1.1,0.7,0,0.9,1.3,0.8,0,1.0,0.7,1.2,0,0.9,0.8,0,1.1,0.7,1.0,0,0.8,1.2,0.9,0,0.7,1.0,0.8,0,1.1,0.9,0,0.7,1.2,0.8,0,1.0,0.9,0.7,0,1.1,0.8,0,1.0,0.7,0.9,0,1.3,0.8,0,1.0,0.7,0,1.2,0.9],
    [0,0.8,1.2,0.9,0,1.0,0.7,1.3,0,0.8,1.0,0,0.7,1.1,0.9,0,1.2,0.8,0.7,0,1.0,0.8,1.1,0,0.9,0.7,1.2,0,0.8,1.0,0,0.9,1.1,0.7,0,0.8,1.2,1.0,0,0.7,0.9,0,1.1,0.8,1.0,0,0.7,1.2,0,0.9,1.0,0,0.8],
    [0.9,0,0.8,1.0,0.7,0,1.1,0.9,0.7,0,0.8,1.0,0.8,0,1.1,0.7,0,0.9,1.0,0.8,0,1.3,0.7,0.9,0,1.0,0.8,0,0.7,0.9,1.1,0,0.8,0.7,1.0,0,0.9,0.8,0,1.1,0.7,0.9,0,0.8,1.0,0,1.2,0.9,0.7,0,0.8,1.0,0.7],
]
why_cant_i_taste_2020 = [1.39,1.08,1.30,1.52,1.46,1.83,1.60,2.08,1.20,1.50,1.83,1.96,2.27,2.10,1.96,1.80,1.64,1.83,1.70,1.58,
                         1.90,2.14,2.46,2.00,1.71,2.10,2.40,1.90,1.39,2.00,2.52,2.10,1.83,2.08,2.20,2.33,2.14,2.30,2.46,2.10,
                         1.83,2.10,2.33,2.45,2.52,2.27,2.40,2.58,2.96,2.77,2.40,2.52]
why_cant_i_taste_2021 = [2.65,2.50,2.33,2.20,2.10,2.00,1.95]

# ---------------- annotations ----------------
quarter_breaks = [9, 21, 33, 45]
pval_positions = [14.5, 27, 39.5, 49.5]
x_ticks = list(range(0, 53, 4))

panels = [
    ('allergies', allergies_bg, allergies_2020, allergies_2021, (5.99, 7.92), [6.0, 6.5, 7.0, 7.5], ['6.0', '6.5', '7.0', '7.5'],
     ['<.0001', '<.0001', '<.0001', '<.0001'], 'rrrr', 'Seasonal: P <.0001; AIM: 0.14(0.05); Wk: 15(4.4)', 0, 0),
    ('anosmia', anosmia_bg, anosmia_2020, anosmia_2021, (1.12, 4.12), [2, 3, 4], ['2', '3', '4'],
     ['<.0001', '<.0001', '<.0001', '<.0001'], 'rrrr', 'Seasonal: P .04; AIM: 0.08(0.05); Wk: 7(16.6)', 1, 0),
    ('asthma', asthma_bg, asthma_2020, asthma_2021, (6.30, 7.06), [6.4, 6.6, 6.8, 7.0], ['6.4', '6.6', '6.8', '7.0'],
     ['<.0001', '<.0001', None, None], 'rrrr', 'Seasonal: P <.0001; AIM: 0.04(0.04); Wk: 5(16.5)', 2, 0),
    ('coronavirus symptoms', coronavirus_symptoms_bg, coronavirus_symptoms_2020, coronavirus_symptoms_2021, (-0.3, 9.2),
     [0, 2.5, 5, 7.5], ['0.0', '2.5', '5.0', '7.5'],
     ['<.0001', '<.0001', '<.0001', '<.0001'], 'rrrr', 'Not Seasonal (P > .05)', 3, 0),
    ('coronavirus test locations', coronavirus_test_locations_bg, coronavirus_test_locations_2020, coronavirus_test_locations_2021,
     (-0.18, 3.34), [0, 1, 2, 3], ['0', '1', '2', '3'],
     ['<.0001', '<.0001', '<.0001', '<.0001'], 'rrrr', 'Not Seasonal (P > .05)', 4, 0),
    ('dry cough', dry_cough_bg, dry_cough_2020, dry_cough_2021, (3.63, 5.98), [4.0, 4.5, 5.0, 5.5], ['4.0', '4.5', '5.0', '5.5'],
     ['<.0001', '.0066', None, '.0001'], 'rrrb', 'Seasonal: P <.0001; AIM: 0.12(0.06); Wk: 3(21.5)', 5, 0),
    ('fever', fever_bg, fever_2020, fever_2021, (7.58, 8.62), [7.6, 7.8, 8.0, 8.2, 8.4, 8.6], ['7.6', '7.8', '8.0', '8.2', '8.4', '8.6'],
     ['<.0001', '.0008', None, '<.0001'], 'rrrb', 'Seasonal: P <.0001; AIM: 0.08(0.07); Wk: 5(15.4)', 0, 1),
    ('flu', flu_bg, flu_2020, flu_2021, (5.97, 9.9), [6, 7, 8, 9], ['6', '7', '8', '9'],
     ['<.0001', '.0002', '<.0001', '<.0001'], 'rrrb', 'Seasonal: P <.0001; AIM: 0.36(0.05); Wk: 52(24.2)', 1, 1),
    ('flu season', flu_season_bg, flu_season_2020, flu_season_2021, (-0.26, 6.47), [0, 2, 4, 6], ['0', '2', '4', '6'],
     ['<.0001', '<.0001', '.04', '<.0001'], 'rrrb', 'Seasonal: P <.0001; AIM: 0.29(0.08); Wk: 9(24.4)', 2, 1),
    ('headache', headache_bg, headache_2020, headache_2021, (6.77, 7.88), [7.0, 7.25, 7.5, 7.75], ['7.00', '7.25', '7.50', '7.75'],
     ['<.0001', '.04', None, '.02'], 'rrrr', 'Not Seasonal (P > .05)', 3, 1),
    ('influenza', influenza_bg, influenza_2020, influenza_2021, (3.9, 8.03), [4, 5, 6, 7, 8], ['4', '5', '6', '7', '8'],
     ['<.0001', '.0002', None, '<.0001'], 'rrrb', 'Seasonal: P <.0001; AIM: 0.39(0.04); Wk: 4(1.2)', 4, 1),
    ('my fever', my_fever_bg, my_fever_2020, my_fever_2021, (3.79, 5.58), [4.0, 4.5, 5.0, 5.5], ['4.0', '4.5', '5.0', '5.5'],
     ['.05', None, None, '<.0001'], 'rrrb', 'Not Seasonal (P > .05)', 5, 1),
    ('problems breathing', problems_breathing_bg, problems_breathing_2020, problems_breathing_2021, (2.62, 4.39),
     [3.0, 3.5, 4.0], ['3.0', '3.5', '4.0'],
     ['<.0001', '<.0001', '.0011', '<.0001'], 'rrrr', 'Not Seasonal (P > .05)', 0, 2),
    ('shortness of breath', shortness_of_breath_bg, shortness_of_breath_2020, shortness_of_breath_2021, (4.39, 6.28),
     [4.5, 5.0, 5.5, 6.0], ['4.5', '5.0', '5.5', '6.0'],
     ['<.0001', '<.0001', '<.0001', '<.0001'], 'rrrr', 'Not Seasonal (P > .05)', 1, 2),
    ('why cant I smell', why_cant_i_smell_bg, why_cant_i_smell_2020, why_cant_i_smell_2021, (-0.1, 2.9), [0, 1, 2], ['0', '1', '2'],
     ['<.0001', '<.0001', '<.0001', '<.0001'], 'rrrr', 'Not Seasonal (P > .05)', 2, 2),
    ('why cant I taste', why_cant_i_taste_bg, why_cant_i_taste_2020, why_cant_i_taste_2021, (-0.1, 3.15), [0, 1, 2, 3], ['0', '1', '2', '3'],
     ['<.0001', '<.0001', '<.0001', '<.0001'], 'rrrr', 'Not Seasonal (P > .05)', 3, 2),
]

W, H = 800, 355
fig = plt.figure(figsize=(W / 100, H / 100), dpi=100)
fig.patch.set_facecolor('white')

col_left = [22, 155, 287, 422, 551, 683]
row_strip_top = [7.5, 124, 240]
strip_h = 11
plot_h = 86
pw = 107
pcol = {'r': '#ee2020', 'b': '#2020ee'}


def fx(px):
    return px / W


def fy(py):
    return 1 - py / H


for (title, bg, s20, s21, ylim, yt, ytl, pv, pc, note, c, r) in panels:
    x0 = col_left[c]
    top = row_strip_top[r]
    ax = fig.add_axes([fx(x0), fy(top + strip_h + plot_h), pw / W, plot_h / H])
    sax = fig.add_axes([fx(x0), fy(top + strip_h), pw / W, strip_h / H])

    # strip
    sax.set_facecolor('#d9d9d9')
    sax.set_xticks([])
    sax.set_yticks([])
    for sp in sax.spines.values():
        sp.set_linewidth(0.6)
        sp.set_color('#333333')
    sax.text(0.5, 0.45, title, transform=sax.transAxes, ha='center', va='center',
             fontsize=7.3, style='italic', clip_on=True)

    # grid + reference lines
    ax.set_xlim(-1.7, 53.6)
    ax.set_ylim(*ylim)
    ax.set_xticks(x_ticks)
    ax.set_xticklabels([str(v) for v in x_ticks])
    ax.set_yticks(yt)
    ax.set_yticklabels(ytl)
    ax.grid(True, color='#e4e4e4', linewidth=0.5)
    ax.set_axisbelow(True)
    for qb in quarter_breaks:
        ax.axvline(qb, color='#a8a8a8', linewidth=1.2, linestyle=(0, (4, 6)), zorder=1.5)

    for i, series in enumerate(bg):
        wk = weeks_bg1 if len(series) > 30 else weeks_bg2
        n = min(len(wk), len(series))
        ax.plot(wk[:n], series[:n], color=year_colors[i], linewidth=0.9, zorder=2)
    n = min(len(weeks_2020), len(s20))
    ax.plot(weeks_2020[:n], s20[:n], color=year_colors[9], linewidth=0.9, zorder=3)
    n = min(len(weeks_2021), len(s21))
    ax.plot(weeks_2021[:n], s21[:n], color=year_colors[10], linewidth=0.9,
            linestyle=(0, (3.5, 2.5)), zorder=3)

    trans = blended_transform_factory(ax.transData, ax.transAxes)
    for pos, txt, colc in zip(pval_positions, pv, pc):
        if txt:
            ax.text(pos, 0.985, txt, transform=trans, ha='center', va='top',
                    fontsize=3.0, color=pcol[colc], zorder=5)
    ax.text(0.015, 0.012, note, transform=ax.transAxes, ha='left', va='bottom', fontsize=3.4,
            zorder=5, bbox=dict(facecolor='white', edgecolor='none', alpha=0.6, pad=0.3))

    ax.tick_params(axis='x', labelsize=3.8, length=1.6, width=0.5, pad=1.2, direction='out')
    ax.tick_params(axis='y', labelsize=5.0, length=1.6, width=0.5, pad=1.5, direction='out')
    for sp in ax.spines.values():
        sp.set_linewidth(0.6)
        sp.set_color('#333333')

handles = []
for i, y in enumerate(years):
    ls = (0, (3.5, 2.5)) if y == '2021' else '-'
    handles.append(Line2D([0], [0], color=year_colors[i], linewidth=1.1, linestyle=ls))
fig.legend(handles, years, ncol=4, loc='upper left', bbox_to_anchor=(fx(556), fy(258)),
           frameon=False, fontsize=6.5, handlelength=2.0, handletextpad=1.1,
           columnspacing=1.1, labelspacing=1.35, borderaxespad=0, borderpad=0)

fig.savefig('out.png', dpi=100, facecolor='white')
